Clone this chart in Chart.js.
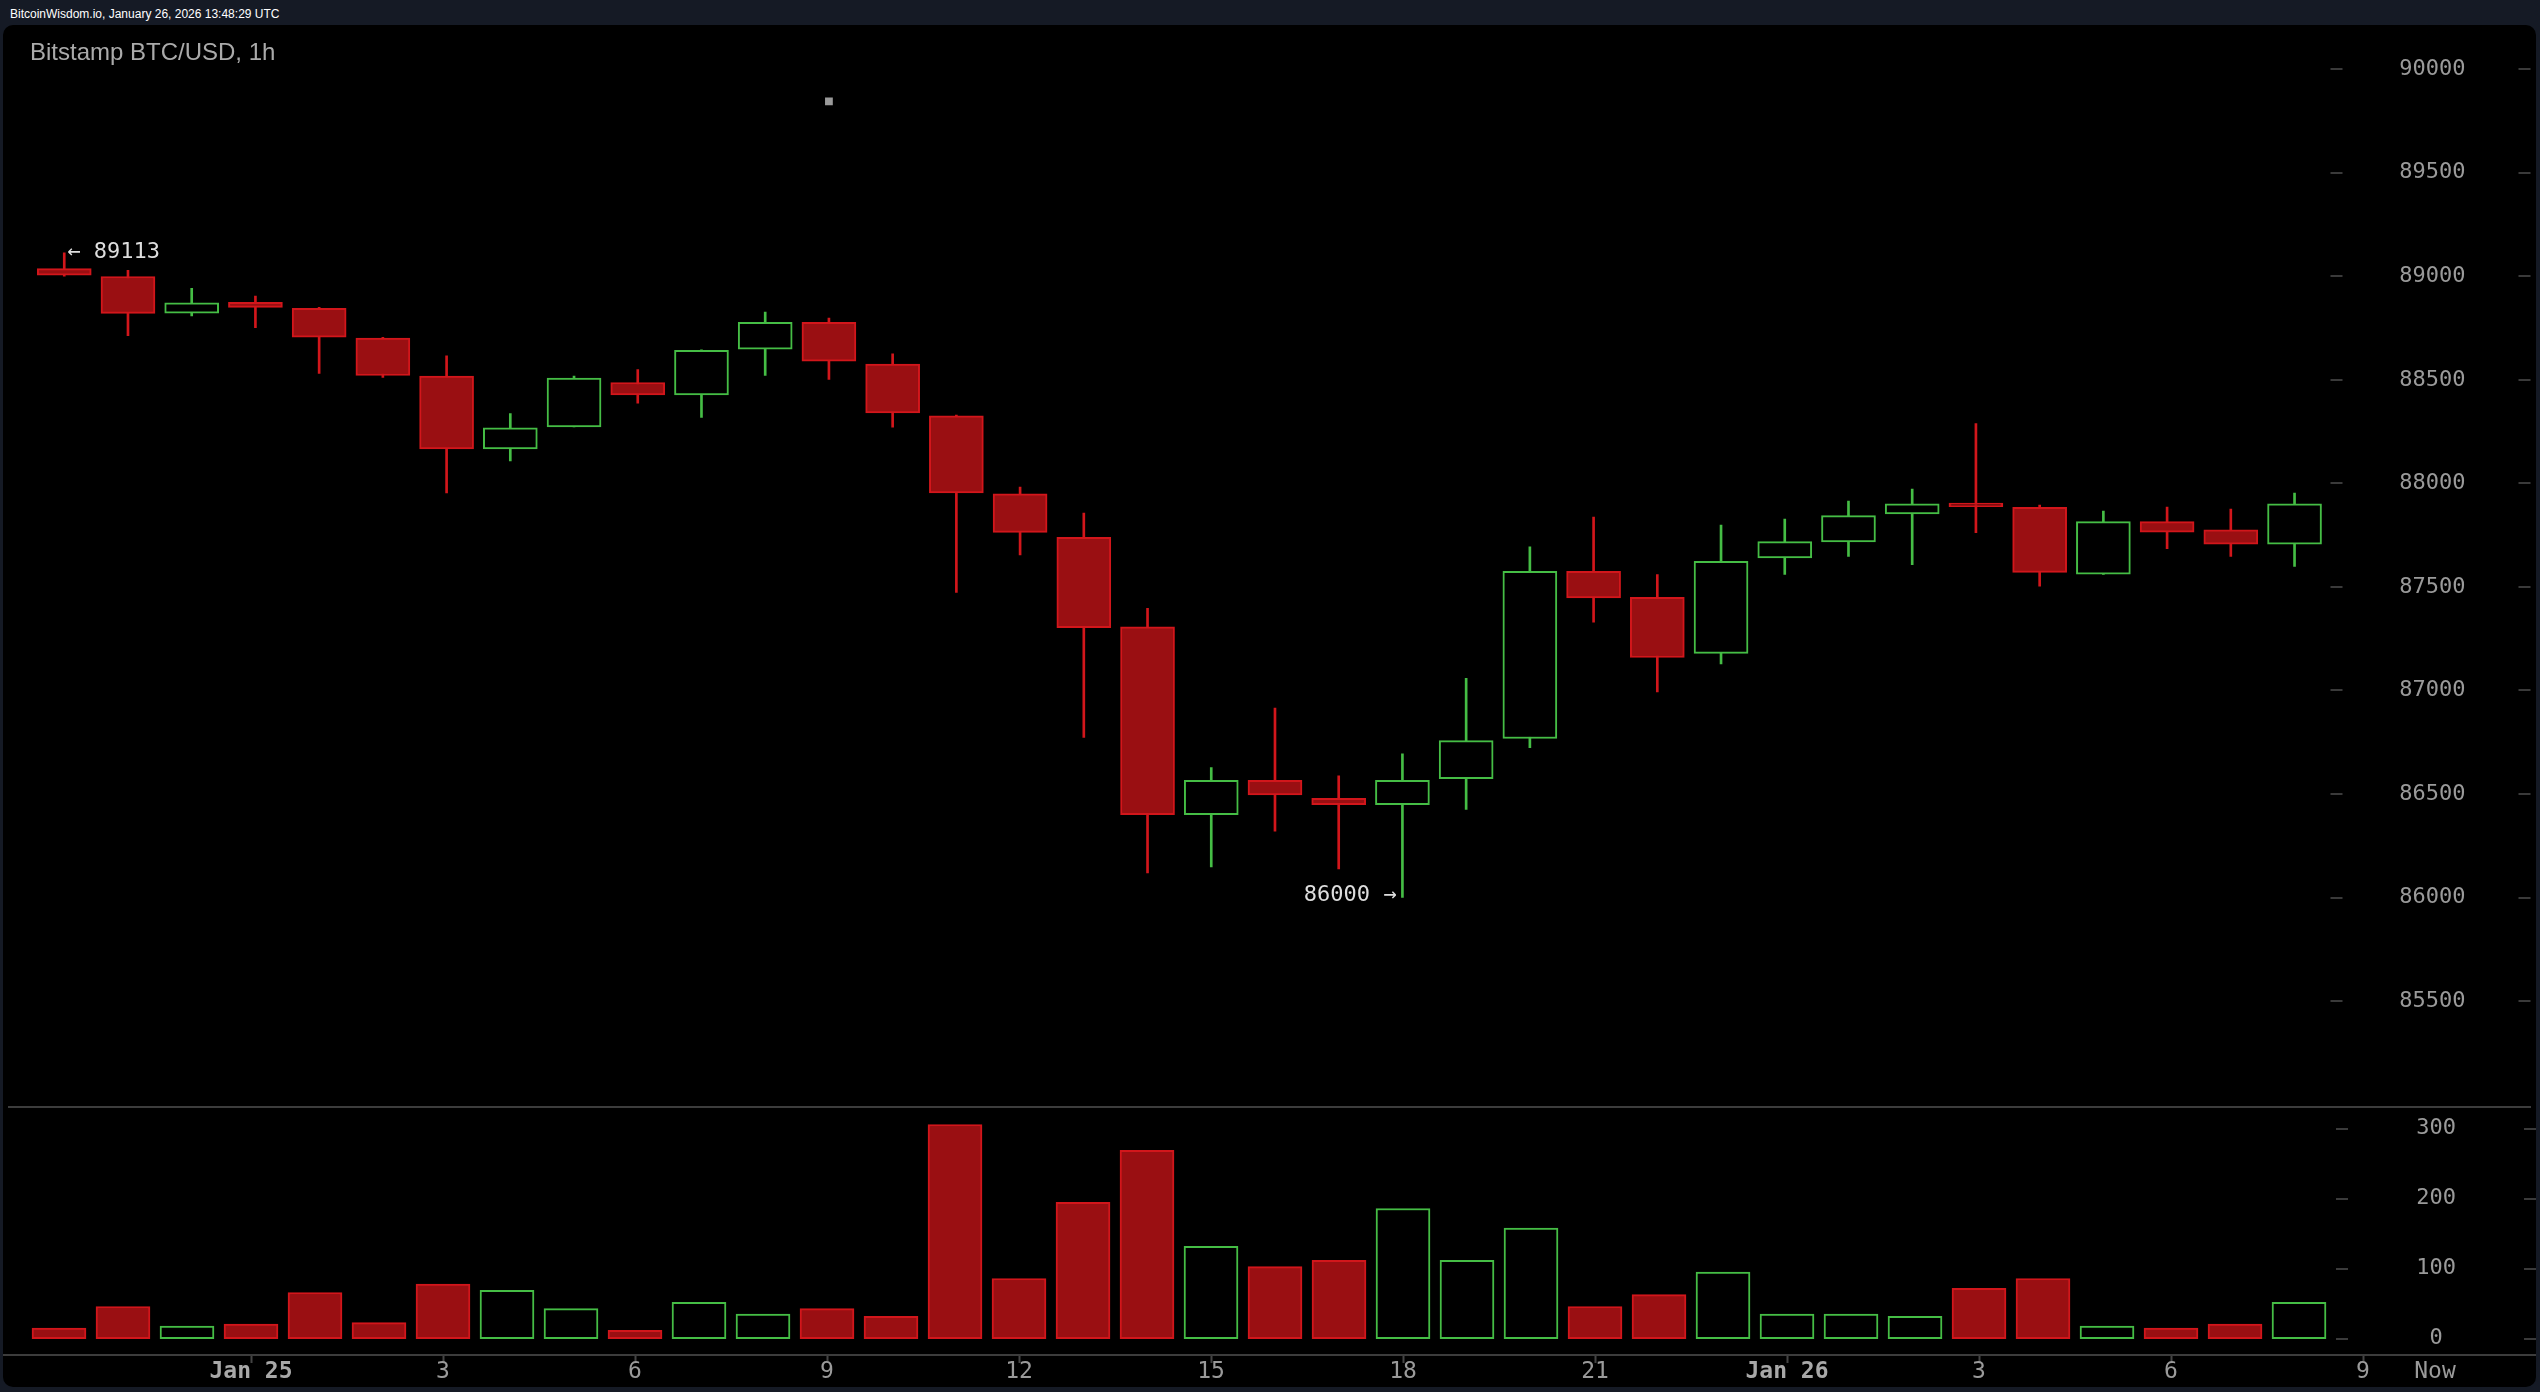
<!DOCTYPE html>
<html><head><meta charset="utf-8">
<script src="https://cdn.jsdelivr.net/npm/chart.js@4.4.1/dist/chart.umd.min.js"></script>
<style>
html,body{margin:0;padding:0;background:#151a25;width:2540px;height:1392px;overflow:hidden;}
#panel{position:absolute;left:3px;top:25px;width:2533px;height:1362px;background:#000;border-radius:10px;}
#hdr{position:absolute;left:10px;top:7px;font:12px "Liberation Sans",Arial,sans-serif;color:#fff;line-height:14px;white-space:nowrap;}
#title{position:absolute;left:30px;top:40px;font:24px "Liberation Sans",Arial,sans-serif;color:#aaa;line-height:24px;white-space:nowrap;}
#pc{position:absolute;left:3px;top:25px;}
#vc{position:absolute;left:3px;top:1108px;}
</style></head><body>
<div id="panel"></div>
<div id="hdr">BitcoinWisdom.io, January 26, 2026 13:48:29 UTC</div>
<canvas id="pc" width="2533" height="1092"></canvas>
<canvas id="vc" width="2533" height="279"></canvas>
<div id="title">Bitstamp BTC/USD, 1h</div>
<script>
// ---- data (hourly candles, Jan 24 21:00 -> Jan 26 08:00 UTC) ----
const opens  = [89037,88999,88822,88874,88845,88701,88518,88166,88273,88487,88427,88648,88778,88576,88326,87950,87739,87307,86400,86566,86479,86448,86574,86768,87575,87450,87179,87640,87717,87852,87905,87884,87562,87815,87776,87706];
const highs  = [89113,89029,88942,88904,88850,88705,88616,88337,88518,88549,88645,88827,88798,88625,88330,87982,87857,87396,86627,86915,86588,86694,87059,87693,87837,87559,87799,87828,87914,87972,88289,87895,87866,87886,87876,87953];
const lows   = [89000,88713,88809,88752,88531,88512,87954,88108,88273,88387,88319,88521,88502,88271,87474,87655,86773,86119,86148,86321,86138,86000,86426,86724,87330,86993,87128,87560,87647,87608,87762,87503,87560,87685,87647,87599];
const closes = [89005,88821,88872,88850,88706,88521,88166,88268,88509,88427,88643,88778,88590,88340,87954,87763,87303,86400,86566,86496,86448,86566,86758,87575,87447,87159,87623,87719,87844,87901,87887,87570,87815,87764,87706,87901];
const volumes = [15,46,18,21,66,23,78,69,43,12,52,35,43,32,306,86,195,269,132,103,112,186,112,158,46,63,95,35,35,32,72,86,18,15,21,52];
const markerX = [12];
const markerY = [89845];
const priceTicks = [85500,86000,86500,87000,87500,88000,88500,89000,89500,90000];
const priceTickLabels = ['85500','86000','86500','87000','87500','88000','88500','89000','89500','90000'];
const volTicks = [0,100,200,300];
const volTickLabels = ['0','100','200','300'];
const xTickValues = [3,6,9,12,15,18,21,24,27,30,33,36,37.125];
const xTickLabels = ['Jan 25','3','6','9','12','15','18','21','Jan 26','3','6','9','Now'];

// ---- styling ----
const RED_FILL = '#9a0f12', RED_LINE = '#d2161b', GREEN_LINE = '#45bd45';
const MONO = '"DejaVu Sans Mono", monospace';
const X_MIN = -0.875, X_MAX = 38.703;

const idx = opens.map((_, i) => i);
const up = i => closes[i] >= opens[i];

const fitY = s => { s.width = 0; s.paddingTop = 0; s.paddingBottom = 0; };

const dashPlugin = {
  id: 'dashes',
  afterDraw(chart) {
    const {ctx, chartArea} = chart;
    const s = chart.scales.y;
    const r = chartArea.right;
    ctx.save();
    ctx.strokeStyle = '#3a3a3a';
    ctx.lineWidth = 2;
    ctx.beginPath();
    s.ticks.forEach(t => {
      const py = Math.round(s.getPixelForValue(t.value));
      ctx.moveTo(r - 200, py); ctx.lineTo(r - 188, py);
      ctx.moveTo(r - 12, py); ctx.lineTo(r, py);
    });
    ctx.stroke();
    ctx.restore();
  }
};

const annotPlugin = {
  id: 'annot',
  afterDatasetsDraw(chart) {
    const {ctx, scales: {x, y}} = chart;
    let hi = 0, lo = 0;
    highs.forEach((v, i) => { if (v > highs[hi]) hi = i; });
    lows.forEach((v, i) => { if (v < lows[lo]) lo = i; });
    ctx.save();
    ctx.font = '22px ' + MONO;
    ctx.fillStyle = '#dddddd';
    ctx.textBaseline = 'middle';
    ctx.textAlign = 'left';
    ctx.fillText('\u2190 ' + highs[hi], x.getPixelForValue(hi) + 3, y.getPixelForValue(highs[hi]) - 1);
    ctx.textAlign = 'right';
    ctx.fillText(lows[lo] + ' \u2192', x.getPixelForValue(lo) - 6, y.getPixelForValue(lows[lo]) - 2);
    ctx.restore();
  }
};

new Chart(document.getElementById('pc'), {
  type: 'bar',
  data: {
    datasets: [
      {
        label: 'body',
        data: idx.map(i => ({x: i, y: [opens[i], closes[i]]})),
        backgroundColor: idx.map(i => up(i) ? '#000000' : RED_FILL),
        borderColor: idx.map(i => up(i) ? GREEN_LINE : RED_LINE),
        borderWidth: 2, borderSkipped: false, barThickness: 54, grouped: false, order: 1
      },
      {
        label: 'wick',
        data: idx.map(i => ({x: i, y: [lows[i], highs[i]]})),
        backgroundColor: idx.map(i => up(i) ? GREEN_LINE : RED_LINE),
        borderWidth: 0, barThickness: 2, grouped: false, order: 2
      },
      {
        type: 'scatter',
        label: 'marker',
        data: markerX.map((v, k) => ({x: v, y: markerY[k]})),
        pointStyle: 'rect', pointRadius: 5.5, backgroundColor: '#9a9a9a', borderWidth: 0, order: 0
      }
    ]
  },
  options: {
    responsive: false, animation: false, devicePixelRatio: 1,
    layout: {padding: 0},
    plugins: {legend: {display: false}, tooltip: {enabled: false}, title: {display: false}},
    scales: {
      x: {
        type: 'linear', min: X_MIN, max: X_MAX, offset: false,
        grid: {display: false, drawTicks: false},
        border: {display: true, color: '#3c3c3c', width: 2},
        ticks: {display: false},
        afterFit: s => { s.height = 10; s.paddingLeft = 0; s.paddingRight = 0; }
      },
      y: {
        type: 'linear', position: 'right', min: 84988.5, max: 90186.9, beginAtZero: false,
        grid: {display: false, drawTicks: false},
        border: {display: false},
        ticks: {mirror: true, crossAlign: 'center', padding: -65, color: '#9a9a9a',
                font: {family: MONO, size: 22},
                callback: (v, i) => priceTickLabels[i]},
        afterBuildTicks: s => { s.ticks = priceTicks.map(v => ({value: v})); },
        afterFit: fitY
      }
    }
  },
  plugins: [dashPlugin, annotPlugin]
});

new Chart(document.getElementById('vc'), {
  type: 'bar',
  data: {
    datasets: [{
      label: 'volume',
      data: idx.map(i => ({x: i, y: volumes[i]})),
      backgroundColor: idx.map(i => up(i) ? '#000000' : RED_FILL),
      borderColor: idx.map(i => up(i) ? GREEN_LINE : RED_LINE),
      borderWidth: 2, borderSkipped: false, barThickness: 54, grouped: false
    }]
  },
  options: {
    responsive: false, animation: false, devicePixelRatio: 1,
    layout: {padding: 0},
    plugins: {legend: {display: false}, tooltip: {enabled: false}},
    scales: {
      x: {
        type: 'linear', position: 'bottom', min: X_MIN, max: X_MAX, offset: false,
        grid: {display: true, offset: false, drawOnChartArea: false, drawTicks: true, tickLength: 8, tickWidth: 2,
               tickColor: c => xTickLabels[c.index] === 'Now' ? 'rgba(0,0,0,0)' : '#444444'},
        border: {display: true, color: '#3c3c3c', width: 2},
        ticks: {
          autoSkip: false, maxRotation: 0, minRotation: 0, padding: 0,
          color: c => (xTickLabels[c.index] || '').startsWith('Jan') ? '#a8a8a8' : '#9a9a9a',
          font: c => ({family: MONO, size: 23, lineHeight: 0.8,
                       weight: (xTickLabels[c.index] || '').startsWith('Jan') ? 'bold' : 'normal'}),
          callback: (v, i) => xTickLabels[i]
        },
        afterBuildTicks: s => { s.ticks = xTickValues.map(v => ({value: v})); },
        afterFit: s => { s.height = 32; s.paddingLeft = 0; s.paddingRight = 0; }
      },
      y: {
        type: 'linear', position: 'right', min: -23.3, max: 329.6, beginAtZero: false,
        grid: {display: false, drawTicks: false},
        border: {display: false},
        ticks: {mirror: true, crossAlign: 'center', padding: -80, color: '#9a9a9a',
                font: {family: MONO, size: 22},
                callback: (v, i) => volTickLabels[i]},
        afterBuildTicks: s => { s.ticks = volTicks.map(v => ({value: v})); },
        afterFit: fitY
      }
    }
  },
  plugins: [dashPlugin]
});
</script>
</body></html>
